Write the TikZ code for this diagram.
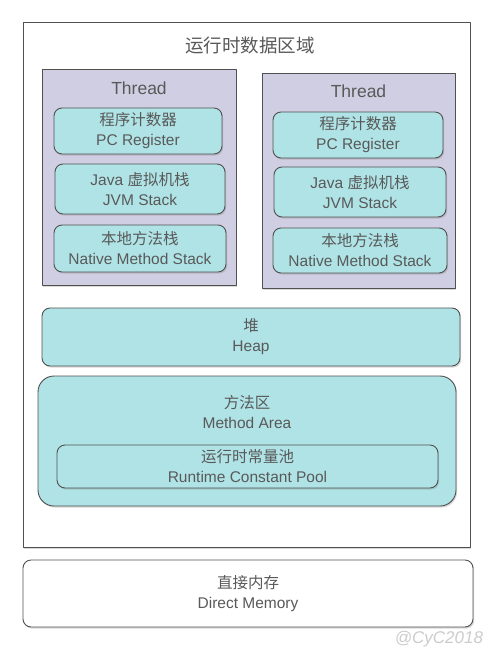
\documentclass[tikz,border=0pt]{standalone}
\usepackage{fontspec}
\setmainfont{Liberation Sans}
\newfontfamily\cjk{Noto Sans CJK SC}
\usetikzlibrary{shadows}
\definecolor{boxcyan}{HTML}{B0E3E6}
\definecolor{boxpurple}{HTML}{D0CEE2}
\definecolor{linegray}{HTML}{505050}
\definecolor{textgray}{HTML}{595959}
\tikzset{
  area/.style={draw=linegray, line width=0.9pt, fill=white, inner sep=0pt,
    drop shadow={shadow xshift=1.2pt, shadow yshift=-1.6pt, opacity=0.3}},
  size/.style 2 args={minimum width=#1pt, minimum height=#2pt},
  threadbox/.style={area, fill=boxpurple},
  membox/.style={area, fill=boxcyan, rounded corners=8pt},
}
\begin{document}
\begin{tikzpicture}[x=1pt, y=-1pt, line join=round, line cap=round,
    every node/.style={text=textgray, font=\fontsize{15.5}{20}\selectfont, align=center}]
  \useasboundingbox (0,0) rectangle (495,662);
  % runtime data area
  \node[area, size={447}{525}] (rtda) at (246.5,284.5) {};
  \node[font=\fontsize{18.5}{22}\selectfont] (rtdatitle) at (250,45) {\cjk 运行时数据区域};
  % threads
  \node[threadbox, size={194}{216}] (thread1) at (139,177) {};
  \node[font=\fontsize{17.5}{20}\selectfont] (thread1lbl) at (139,88) {Thread};
  \node[membox, size={168}{46}] (pc1) at (138,131) {{\cjk 程序计数器}\\PC Register};
  \node[membox, size={170}{50}] (jvm1) at (140,189) {Java {\cjk 虚拟机栈}\\JVM Stack};
  \node[membox, size={172}{47}] (nat1) at (140,248.5) {{\cjk 本地方法栈}\\Native Method Stack};
  \node[threadbox, size={193}{215}] (thread2) at (358.5,180.5) {};
  \node[font=\fontsize{17.5}{20}\selectfont] (thread2lbl) at (358.5,91) {Thread};
  \node[membox, size={170}{46}] (pc2) at (358,135) {{\cjk 程序计数器}\\PC Register};
  \node[membox, size={172}{50}] (jvm2) at (360,192) {Java {\cjk 虚拟机栈}\\JVM Stack};
  \node[membox, size={174}{45}] (nat2) at (360,250.5) {{\cjk 本地方法栈}\\Native Method Stack};
  % heap and method area
  \node[membox, size={418}{58}] (heap) at (251,337) {{\cjk 堆}\\Heap};
  \node[membox, rounded corners=16pt, size={418}{130}] (method) at (247,441) {};
  \node (methodlbl) at (247,412) {{\cjk 方法区}\\Method Area};
  \node[membox, size={381}{43}] (pool) at (247.5,466.5) {{\cjk 运行时常量池}\\Runtime Constant Pool};
  % outside
  \node[area, rounded corners=8pt, size={450}{67}] (direct) at (248,593.5) {{\cjk 直接内存}\\Direct Memory};
  \node[text=gray!40, font=\itshape\fontsize{17}{20}\selectfont] (mark) at (439,639) {@CyC2018};
\end{tikzpicture}
\end{document}
